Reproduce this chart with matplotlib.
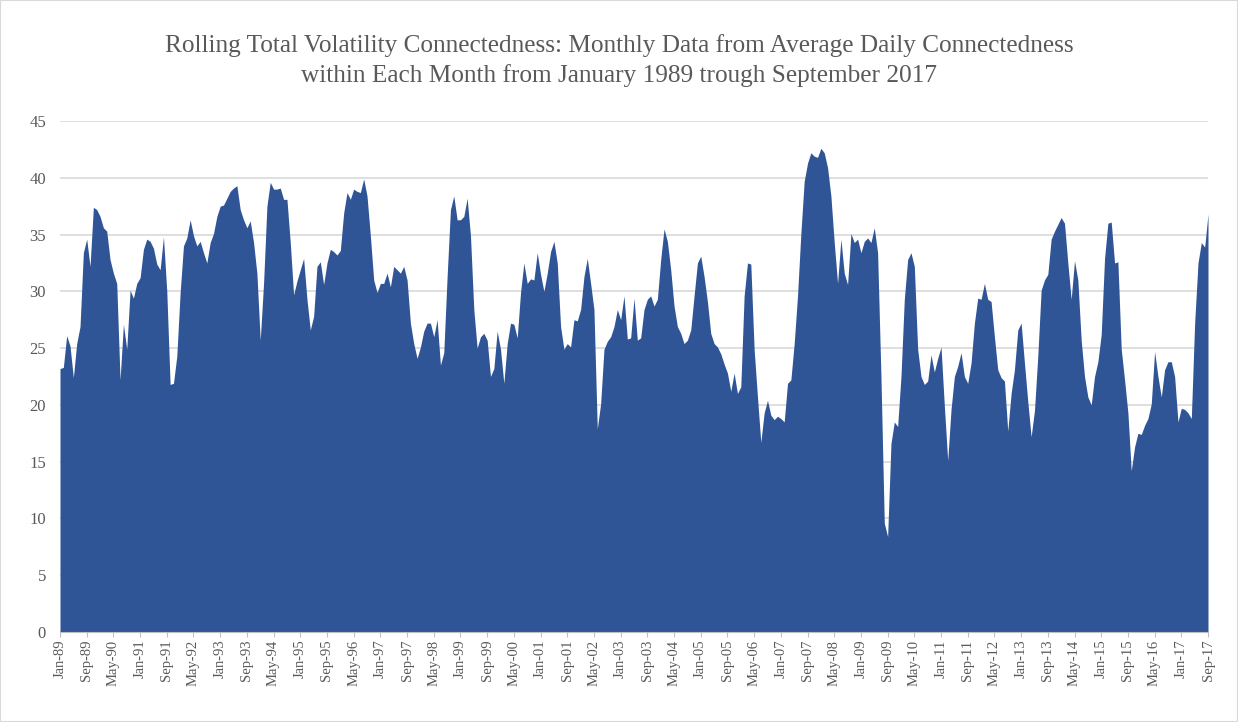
import numpy as np
import pandas as pd
import matplotlib.pyplot as plt

# monthly values, Jan-1989 .. Sep-2017
vals_1989_1993 = [23.2, 23.3, 26.1, 25.2, 22.4, 25.4, 26.9, 33.4, 34.6, 32.2, 37.4, 37.2,
                  36.6, 35.6, 35.3, 32.8, 31.6, 30.7, 22.2, 27.1, 24.9, 30.1, 29.4, 30.7,
                  31.2, 33.7, 34.6, 34.4, 33.8, 32.4, 31.9, 34.8, 30.0, 21.8, 21.9, 24.3,
                  29.9, 34.0, 34.7, 36.3, 34.9, 34.0, 34.4, 33.4, 32.5, 34.3, 35.1, 36.6,
                  37.5, 37.6, 38.2, 38.8, 39.1, 39.3, 37.2, 36.3, 35.6, 36.2, 34.3, 31.6]
vals_1994_1998 = [25.7, 30.7, 37.5, 39.6, 39.0, 39.0, 39.1, 38.1, 38.1, 34.3, 29.7, 30.9,
                  31.9, 32.9, 29.3, 26.6, 27.8, 32.2, 32.6, 30.6, 32.5, 33.7, 33.5, 33.2,
                  33.6, 36.9, 38.7, 38.1, 39.0, 38.8, 38.7, 39.9, 38.4, 34.9, 31.0, 29.9,
                  30.7, 30.7, 31.6, 30.4, 32.2, 31.9, 31.6, 32.2, 31.0, 27.2, 25.4, 24.1,
                  25.1, 26.5, 27.2, 27.2, 26.0, 27.5, 23.5, 24.6, 31.3, 37.2, 38.4, 36.3]
vals_1999_2003 = [36.3, 36.6, 38.2, 34.9, 28.4, 25.0, 26.0, 26.3, 25.7, 22.5, 23.2, 26.5,
                  24.9, 21.9, 25.4, 27.2, 27.1, 25.9, 29.9, 32.5, 30.7, 31.1, 31.0, 33.4,
                  31.5, 30.0, 31.6, 33.5, 34.4, 32.5, 26.9, 24.9, 25.4, 25.1, 27.5, 27.4,
                  28.4, 31.3, 32.9, 30.7, 28.4, 17.9, 20.1, 24.9, 25.6, 26.0, 26.9, 28.4,
                  27.5, 29.6, 25.8, 25.9, 29.4, 25.7, 25.9, 28.4, 29.3, 29.6, 28.7, 29.3]
vals_2004_2008 = [32.8, 35.5, 34.4, 31.9, 28.7, 26.9, 26.3, 25.4, 25.7, 26.6, 29.6, 32.5,
                  33.1, 31.3, 29.1, 26.3, 25.4, 25.1, 24.5, 23.6, 22.8, 21.2, 22.8, 21.0,
                  21.6, 29.6, 32.5, 32.4, 24.9, 20.7, 16.7, 19.3, 20.4, 19.1, 18.7, 19.0,
                  18.8, 18.5, 21.9, 22.2, 25.4, 29.6, 35.1, 39.7, 41.3, 42.2, 41.9, 41.8,
                  42.6, 42.2, 40.9, 38.4, 34.3, 30.7, 34.6, 31.6, 30.6, 35.1, 34.3, 34.6]
vals_2009_2013 = [33.4, 34.4, 34.7, 34.3, 35.6, 33.4, 22.5, 9.6, 8.4, 16.6, 18.5, 18.1,
                  22.5, 29.3, 32.8, 33.4, 32.2, 24.9, 22.5, 21.8, 22.1, 24.4, 22.9, 24.1,
                  25.1, 19.9, 15.1, 19.6, 22.5, 23.4, 24.6, 22.5, 21.9, 23.7, 27.2, 29.4,
                  29.3, 30.7, 29.3, 29.1, 26.0, 23.1, 22.4, 22.1, 17.7, 21.0, 23.1, 26.6,
                  27.2, 23.7, 20.3, 17.2, 19.5, 24.3, 30.1, 31.0, 31.5, 34.6, 35.3, 35.9]
vals_2014_2017 = [36.5, 36.0, 32.5, 29.3, 32.7, 31.0, 25.7, 22.5, 20.7, 20.0, 22.5, 23.8,
                  26.2, 32.9, 36.0, 36.1, 32.5, 32.6, 24.9, 22.2, 19.3, 14.2, 16.3, 17.5,
                  17.4, 18.2, 18.8, 20.1, 24.7, 22.5, 20.7, 23.1, 23.8, 23.8, 22.5, 18.5,
                  19.7, 19.6, 19.3, 18.8, 27.2, 32.5, 34.3, 33.9, 36.8]

connectedness = np.array(vals_1989_1993 + vals_1994_1998 + vals_1999_2003
                         + vals_2004_2008 + vals_2009_2013 + vals_2014_2017)
months = pd.date_range('1989-01-01', periods=len(connectedness), freq='MS')
tick_labels = [d.strftime('%b-%y') for d in months[::8]]

title = ('Rolling Total Volatility Connectedness: Monthly Data from Average Daily Connectedness\n'
         'within Each Month from January 1989 trough September 2017')

plt.rcParams['font.family'] = ['Liberation Serif', 'DejaVu Serif']
text_color = '#595959'

fig = plt.figure(figsize=(12.38, 7.22), dpi=100)
ax = fig.add_axes([60 / 1238, 1 - 632 / 722, (1208 - 60) / 1238, (632 - 121) / 722])

x = np.arange(len(connectedness))
ax.fill_between(x, connectedness, color='#2F5597', linewidth=0, zorder=2)

ax.set_xlim(0, len(connectedness) - 1)
ax.set_ylim(0, 45)
ax.set_yticks(range(0, 46, 5))
ax.grid(axis='y', color='#d9d9d9', linewidth=1.2, zorder=0)
ax.set_axisbelow(True)

ax.set_xticks(x[::8])
ax.set_xticklabels(tick_labels, rotation=90)

for side in ['top', 'right', 'left']:
    ax.spines[side].set_visible(False)
ax.spines['bottom'].set_color('#bfbfbf')

ax.tick_params(axis='y', length=0, labelsize=12, labelcolor=text_color, pad=10)
ax.tick_params(axis='x', length=3.5, color='#bfbfbf', labelsize=10.5,
               labelcolor=text_color, pad=2)

fig.text(0.5, 0.916, title, ha='center', va='center', fontsize=18.2,
         color=text_color, linespacing=1.42)

fig.add_artist(plt.Rectangle((0, 0), 1, 1, transform=fig.transFigure, fill=False,
                             edgecolor='#d9d9d9', linewidth=1.5))

fig.savefig('out.png', dpi=100)
